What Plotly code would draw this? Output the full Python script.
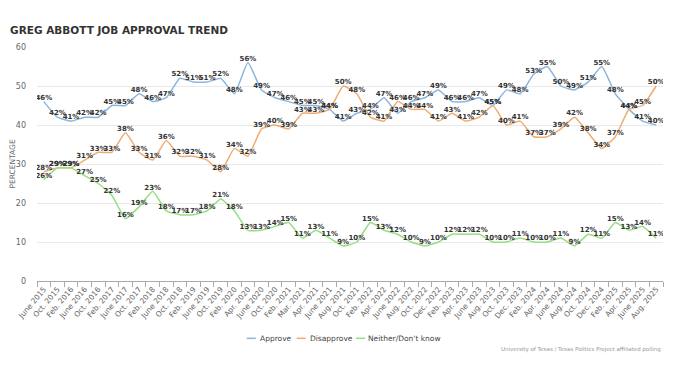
import plotly.graph_objects as go

categories = ["June 2015", "Oct. 2015", "Feb. 2016", "June 2016", "Oct. 2016", "Feb. 2017",
              "June 2017", "Oct. 2017", "Feb. 2018", "June 2018", "Oct. 2018", "Feb. 2019",
              "June 2019", "Oct. 2019", "Feb. 2020", "Apr. 2020", "June 2020", "Oct. 2020",
              "Feb. 2021", "Mar. 2021", "Apr. 2021", "June 2021", "Aug. 2021", "Oct. 2021",
              "Feb. 2022", "Apr. 2022", "June 2022", "Aug. 2022", "Oct. 2022", "Dec. 2022",
              "Feb. 2023", "Apr. 2023", "June 2023", "Aug. 2023", "Oct. 2023", "Dec. 2023",
              "Feb. 2024", "Apr. 2024", "June 2024", "Aug. 2024", "Oct. 2024", "Dec. 2024",
              "Feb. 2025", "Apr. 2025", "June 2025", "Aug. 2025"]

approve = [46, 42, 41, 42, 42, 45, 45, 48, 46, 47, 52, 51, 51, 52, 48, 56, 49, 47, 46, 45,
           45, 44, 41, 43, 44, 47, 43, 46, 47, 49, 46, 46, 47, 45, 49, 48, 53, 55, 50, 49,
           51, 55, 48, 44, 41, 40]
disapprove = [28, 29, 29, 31, 33, 33, 38, 33, 31, 36, 32, 32, 31, 28, 34, 32, 39, 40, 39, 43,
              43, 44, 50, 48, 42, 41, 46, 44, 44, 41, 43, 41, 42, 45, 40, 41, 37, 37, 39, 42,
              38, 34, 37, 44, 45, 50]
neither = [26, 29, 29, 27, 25, 22, 16, 19, 23, 18, 17, 17, 18, 21, 18, 13, 13, 14, 15, 11,
           13, 11, 9, 10, 15, 13, 12, 10, 9, 10, 12, 12, 12, 10, 10, 11, 10, 10, 11, 9,
           12, 11, 15, 13, 14, 11]

series_names = ["Approve", "Disapprove", "Neither/Don't know"]
series_values = [approve, disapprove, neither]
series_colors = ["rgb(138,182,222)", "rgb(240,172,112)", "rgb(150,222,130)"]

FONT = "DejaVu Sans"
fig = go.Figure()
for name, vals, color in zip(series_names, series_values, series_colors):
    fig.add_trace(go.Scatter(
        x=categories, y=vals, name=name, mode="lines", showlegend=False,
        line=dict(color=color, width=1.5, shape="spline", smoothing=0.4),
        hoverinfo="skip"))
for name, vals, color in zip(series_names, series_values, series_colors):
    fig.add_trace(go.Scatter(
        x=categories, y=vals, mode="text", showlegend=False,
        text=[f"{v}%" for v in vals], textposition="top center",
        textfont=dict(family=FONT, size=7, color="#333", weight="bold"),
        hoverinfo="skip"))

# manual legend (short line swatches like the reference)
legend_line_start = [0.335, 0.4148, 0.5096]   # paper fractions of plot width
legend_text_start = [0.3525, 0.4329, 0.5256]
legend_y = -0.245
shapes = []
annotations = []
for name, color, x0, xt in zip(series_names, series_colors, legend_line_start, legend_text_start):
    shapes.append(dict(type="line", xref="paper", yref="paper", x0=x0, x1=x0 + 0.0145,
                       y0=legend_y, y1=legend_y, line=dict(color=color, width=1.5)))
    annotations.append(dict(text=name, xref="paper", yref="paper", x=xt,
                            xanchor="left", y=legend_y, yanchor="middle", showarrow=False,
                            font=dict(size=7.5, color="#444", family=FONT)))
annotations.append(dict(text="University of Texas / Texas Politics Project affiliated polling",
                        x=1, xref="paper", xanchor="right", y=-0.292, yref="paper",
                        yanchor="middle", showarrow=False,
                        font=dict(size=5.5, color="#999", family=FONT)))

fig.update_layout(
    width=675, height=380,
    margin=dict(l=29, r=20, t=39, b=107),
    paper_bgcolor="white", plot_bgcolor="white",
    font=dict(family=FONT, color="#555"),
    title=dict(text="<b>GREG ABBOTT JOB APPROVAL TREND</b>", x=0.003, xanchor="left",
               y=0.942, yanchor="middle", font=dict(size=10.5, color="#333", family=FONT)),
    showlegend=False,
    shapes=shapes,
    annotations=annotations,
)
fig.update_xaxes(type="category", tickson="boundaries", ticks="outside", ticklen=5,
                 tickcolor="#aaa", showline=True, linecolor="#aaa", linewidth=1,
                 showgrid=False, tickangle=-50, tickfont=dict(size=7.5, color="#666"),
                 range=[-0.5, 45.5], automargin=False)
fig.update_yaxes(range=[0, 60], dtick=10, showgrid=True, gridcolor="#e9e9e9",
                 zeroline=False, tickfont=dict(size=8, color="#666"),
                 ticklabelstandoff=10, automargin=False,
                 title=dict(text="PERCENTAGE", font=dict(size=7.5, color="#666"), standoff=4))

fig.write_html("out.html")
